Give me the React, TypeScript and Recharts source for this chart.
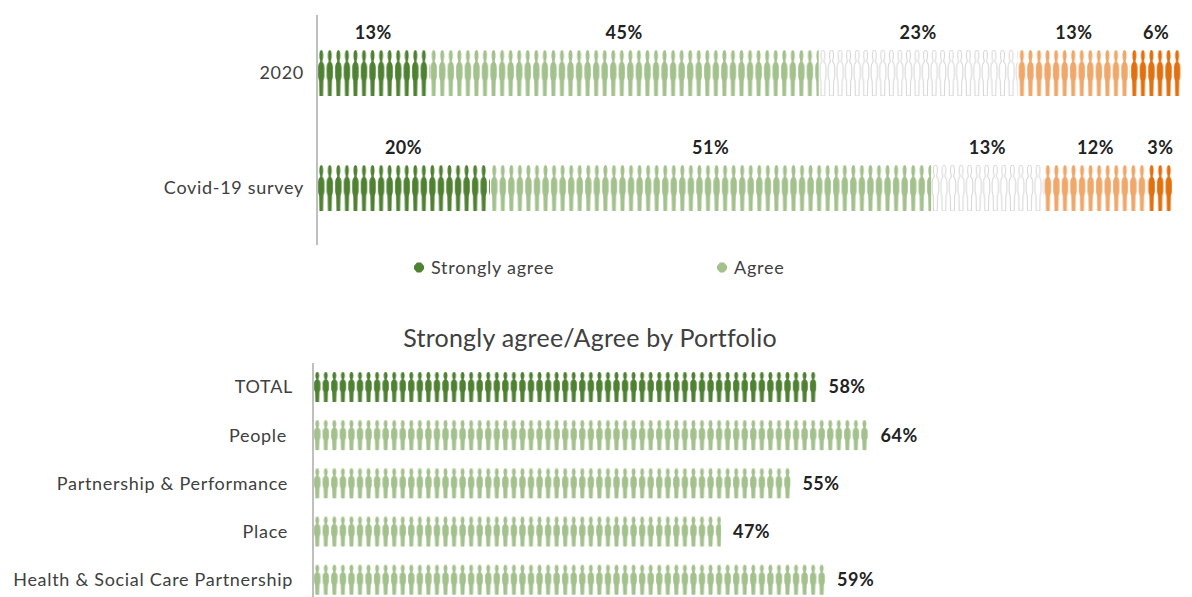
import React, { useId } from "react";
import { BarChart, Bar, XAxis, YAxis, Legend, LabelList } from "recharts";

const surveys = ["2020", "Covid-19 survey"];
const stronglyAgree = [13, 20];
const agree = [45, 51];
const neutral = [23, 13];
const disagree = [13, 12];
const stronglyDisagree = [6, 3];

const portfolios = [
  "TOTAL",
  "People",
  "Partnership & Performance",
  "Place",
  "Health & Social Care Partnership",
];
const portfolioAgree = [58, 64, 55, 47, 59];

const DARK_GREEN = "#4f8132";
const LIGHT_GREEN = "#a3c18c";
const OUTLINE = "#d4d4d4";
const LIGHT_ORANGE = "#f0a76a";
const DARK_ORANGE = "#e2700f";
const TEXT = "#404040";
const FONT = "Lato, sans-serif";
const FIGURE_PITCH = 8.55;

// the portfolio labels don't share one right edge
const PORTFOLIO_TICK_SHIFT = [0, -6, -5, -5, 0];

const surveyRows = surveys.map((name, i) => ({
  name,
  stronglyAgree: stronglyAgree[i],
  agree: agree[i],
  neutral: neutral[i],
  disagree: disagree[i],
  stronglyDisagree: stronglyDisagree[i],
}));
const portfolioRows = portfolios.map((name, i) => ({ name, value: portfolioAgree[i] }));

// one standing figure, stretched to the bar height
const figurePath = (h: number) => {
  const y = (v: number) => ((v * h) / 100).toFixed(2);
  return `M4.27 ${y(0)} C5.5 ${y(0)} 6.2 ${y(5)} 6.2 ${y(12)} C6.2 ${y(18)} 5.6 ${y(22)} 5.3 ${y(24)}
    L5.8 ${y(27)} C6.8 ${y(29)} 7.4 ${y(33)} 7.4 ${y(38)} L7.4 ${y(56)} C7.4 ${y(61)} 6.7 ${y(64)} 6.4 ${y(67)}
    L6.1 ${y(100)} L2.4 ${y(100)} L2.1 ${y(67)} C1.8 ${y(64)} 1.1 ${y(61)} 1.1 ${y(56)} L1.1 ${y(38)}
    C1.1 ${y(33)} 1.7 ${y(29)} 2.7 ${y(27)} L3.2 ${y(24)} C2.9 ${y(22)} 2.3 ${y(18)} 2.3 ${y(12)}
    C2.3 ${y(5)} 3 ${y(0)} 4.27 ${y(0)} Z`;
};

// bar drawn as a row of figures, the last one cut off at the bar's end
const FigureBar = ({ x, y, width, height, fill, outlined }: any) => {
  const id = useId();
  return (
    <g>
      <defs>
        <pattern
          id={id}
          patternUnits="userSpaceOnUse"
          x={x}
          y={y}
          width={FIGURE_PITCH}
          height={height}
        >
          <path
            d={figurePath(height)}
            fill={outlined ? "#fff" : fill}
            stroke={outlined ? OUTLINE : "none"}
            strokeWidth={outlined ? 1 : 0}
          />
        </pattern>
      </defs>
      <rect x={x} y={y} width={width} height={height} fill={`url(#${id})`} />
    </g>
  );
};

const percent = (v: any) => `${v}%`;
const labelStyle = {
  fill: "#222",
  fontSize: 18,
  fontWeight: 700,
  letterSpacing: 0.5,
  fontFamily: FONT,
};
const tickStyle = { fill: TEXT, fontSize: 18, letterSpacing: 0.7, fontFamily: FONT };

const PortfolioTick = ({ x, y, payload, index }: any) => (
  <text
    x={x + PORTFOLIO_TICK_SHIFT[index]}
    y={y}
    dy="0.355em"
    textAnchor="end"
    {...tickStyle}
  >
    {payload.value}
  </text>
);

const LEGEND_ORDER = ["Strongly agree", "Agree"];

const LegendRow = ({ payload }: any) => (
  <div
    style={{
      display: "flex",
      paddingLeft: 414,
      fontFamily: FONT,
      fontSize: 18,
      letterSpacing: 0.75,
      color: TEXT,
    }}
  >
    {LEGEND_ORDER.map((label) => {
      const item = payload.find((p: any) => p.value === label);
      return (
        <div key={label} style={{ width: 303, display: "flex", alignItems: "center", gap: 7 }}>
          <svg width={10} height={11}>
            <path d="M3 0.5 H7 L10 4 V7 L7 10.5 H3 L0 7 V4 Z" fill={item?.color} />
          </svg>
          <span>{label}</span>
        </div>
      );
    })}
  </div>
);

const surveySeries = [
  { key: "stronglyAgree", name: "Strongly agree", fill: DARK_GREEN },
  { key: "agree", name: "Agree", fill: LIGHT_GREEN },
  { key: "neutral", name: "Neutral", fill: OUTLINE, outlined: true },
  { key: "disagree", name: "Disagree", fill: LIGHT_ORANGE },
  { key: "stronglyDisagree", name: "Strongly disagree", fill: DARK_ORANGE },
];

export default function App() {
  return (
    <div
      style={{
        position: "absolute",
        left: 0,
        top: 0,
        width: 1192,
        height: 597,
        overflow: "hidden",
        background: "#fff",
      }}
    >
      <BarChart
        width={1192}
        height={290}
        data={surveyRows}
        layout="vertical"
        margin={{ top: 15, right: 10, bottom: 45, left: 0 }}
        style={{ position: "absolute", left: 0, top: 0 }}
      >
        <XAxis type="number" domain={[0, 100]} hide />
        <YAxis
          type="category"
          dataKey="name"
          width={317}
          interval={0}
          tickLine={false}
          tickMargin={7}
          axisLine={{ stroke: "#bfbfbf", strokeWidth: 2 }}
          tick={tickStyle}
        />
        <Legend
          layout="horizontal"
          verticalAlign="middle"
          wrapperStyle={{ left: 0, top: 256, width: 1192 }}
          content={<LegendRow />}
        />
        {surveySeries.map((s) => (
          <Bar
            key={s.key}
            dataKey={s.key}
            name={s.name}
            stackId="survey"
            fill={s.fill}
            barSize={46}
            isAnimationActive={false}
            shape={(p: any) => <FigureBar {...p} outlined={s.outlined} />}
          >
            <LabelList
              dataKey={s.key}
              position="top"
              offset={11}
              formatter={percent}
              style={labelStyle}
            />
          </Bar>
        ))}
      </BarChart>

      <div
        style={{
          position: "absolute",
          left: 0,
          top: 322,
          width: 1180,
          textAlign: "center",
          fontFamily: FONT,
          fontSize: 25,
          letterSpacing: 0.25,
          color: TEXT,
        }}
      >
        Strongly agree/Agree by Portfolio
      </div>

      <BarChart
        width={1192}
        height={300}
        data={portfolioRows}
        layout="vertical"
        margin={{ top: 43, right: 11, bottom: 16, left: 0 }}
        style={{ position: "absolute", left: 0, top: 320 }}
      >
        <XAxis type="number" domain={[0, 100]} hide />
        <YAxis
          type="category"
          dataKey="name"
          width={313}
          interval={0}
          tickLine={false}
          tickMargin={14}
          axisLine={{ stroke: "#bfbfbf", strokeWidth: 2 }}
          tick={<PortfolioTick />}
        />
        <Bar
          dataKey="value"
          barSize={30}
          fill={LIGHT_GREEN}
          isAnimationActive={false}
          shape={(p: any) => (
            <FigureBar {...p} fill={p.index === 0 ? DARK_GREEN : LIGHT_GREEN} />
          )}
        >
          <LabelList
            dataKey="value"
            position="right"
            offset={12}
            formatter={percent}
            style={labelStyle}
          />
        </Bar>
      </BarChart>
    </div>
  );
}
